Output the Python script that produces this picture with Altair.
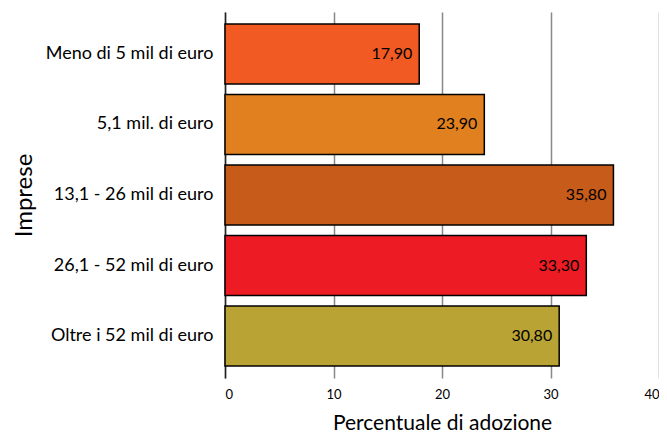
import altair as alt
import pandas as pd

categories = [
    "Meno di 5 mil di euro",
    "5,1 mil. di euro",
    "13,1 - 26 mil di euro",
    "26,1 - 52 mil di euro",
    "Oltre i 52 mil di euro",
]
values = [17.90, 23.90, 35.80, 33.30, 30.80]
colors = ["#F15A22", "#E0801E", "#C65B1A", "#ED1C24", "#B9A334"]
x_ticks = [0, 10, 20, 30, 40]

df = pd.DataFrame({"Impresa": categories, "Valore": values})

FONT = "Lato"

base = alt.Chart(df).encode(
    y=alt.Y(
        "Impresa:N",
        sort=categories,
        scale=alt.Scale(paddingInner=0.15, paddingOuter=0.17),
        axis=alt.Axis(
            title="Imprese",
            titleFontSize=24,
            titleFontWeight="normal",
            titleFont=FONT,
            titleColor="black",
            titleBaseline="alphabetic",
            titleAlign="center",
            titleAngle=270,
            titleX=-194,
            titleY=183,
            labelFont=FONT,
            labelFontSize=18,
            labelColor="black",
            labelPadding=12,
            ticks=False,
            domainColor="#222",
            domainWidth=1.5,
            grid=False,
        ),
    ),
)

bars = base.mark_bar(stroke="black", strokeWidth=1.5).encode(
    x=alt.X(
        "Valore:Q",
        scale=alt.Scale(domain=[0, 40], nice=False),
        axis=alt.Axis(
            values=x_ticks,
            title="Percentuale di adozione",
            titleFont=FONT,
            titleFontSize=21,
            titleFontWeight="normal",
            titleColor="black",
            titleBaseline="alphabetic",
            titleY=51,
            labelFont=FONT,
            labelFontSize=13,
            labelColor="black",
            labelPadding=10,
            ticks=False,
            domain=False,
            grid=True,
            gridColor="#888",
            gridWidth=1.5,
        ),
    ),
    color=alt.Color(
        "Impresa:N",
        scale=alt.Scale(domain=categories, range=colors),
        legend=None,
    ),
)

labels = base.mark_text(
    align="right", baseline="middle", dx=-7, font=FONT, fontSize=16, color="black"
).transform_calculate(
    lab="replace(format(datum.Valore, '.2f'), '.', ',')"
).encode(
    x=alt.X("Valore:Q"),
    text="lab:N",
)

chart = (
    alt.layer(bars, labels)
    .properties(
        width=434,
        height=366,
        autosize=alt.AutoSizeParams(type="none"),
        padding={"left": 217, "top": 4, "right": 0, "bottom": 55},
    )
    .configure_view(stroke=None)
)

chart.save("out.html", embed_options={"renderer": "svg", "actions": False})
